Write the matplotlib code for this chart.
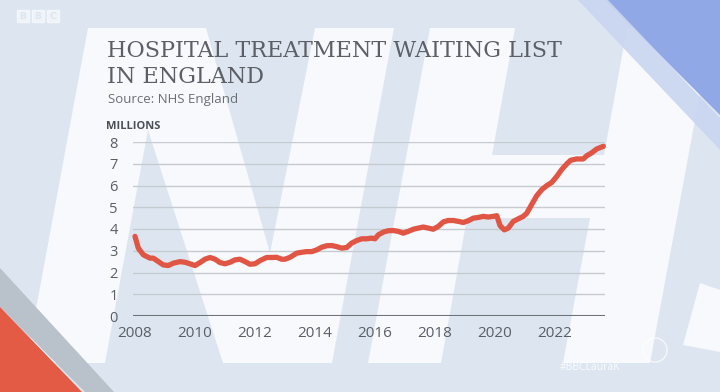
import matplotlib
matplotlib.use("Agg")
from matplotlib import pyplot as plt
from matplotlib.patches import Polygon, Rectangle, Circle

# waiting list, millions
years = [2008.00, 2008.11, 2008.28, 2008.50, 2008.61, 2008.78, 2008.94, 2009.11, 2009.28, 2009.50,
         2009.67, 2009.83, 2010.00, 2010.17, 2010.33, 2010.50, 2010.67, 2010.83, 2011.00, 2011.17,
         2011.33, 2011.50, 2011.67, 2011.83, 2012.00, 2012.17, 2012.39, 2012.56, 2012.72, 2012.89,
         2013.00, 2013.17, 2013.39, 2013.56, 2013.72, 2013.89, 2014.06, 2014.22, 2014.39, 2014.56,
         2014.72, 2014.89, 2015.06, 2015.22, 2015.39, 2015.56, 2015.72, 2015.89, 2016.00, 2016.11,
         2016.28, 2016.44, 2016.61, 2016.78, 2016.94, 2017.11, 2017.28, 2017.44, 2017.61, 2017.78,
         2017.94, 2018.11, 2018.28, 2018.44, 2018.61, 2018.78, 2018.94, 2019.11, 2019.28, 2019.44,
         2019.61, 2019.78, 2019.94, 2020.06, 2020.17, 2020.31, 2020.44, 2020.61, 2020.78, 2020.94,
         2021.06, 2021.22, 2021.39, 2021.56, 2021.72, 2021.89, 2022.06, 2022.22, 2022.39, 2022.52,
         2022.72, 2022.94, 2023.06, 2023.22, 2023.39, 2023.61]
waiting = [3.66, 3.12, 2.81, 2.66, 2.66, 2.50, 2.35, 2.32, 2.43, 2.50,
           2.47, 2.40, 2.32, 2.46, 2.61, 2.69, 2.61, 2.46, 2.40, 2.47,
           2.58, 2.61, 2.50, 2.38, 2.40, 2.55, 2.69, 2.69, 2.70, 2.61,
           2.61, 2.70, 2.89, 2.93, 2.96, 2.96, 3.04, 3.16, 3.23, 3.24,
           3.19, 3.12, 3.15, 3.35, 3.47, 3.55, 3.55, 3.58, 3.55, 3.73,
           3.86, 3.92, 3.93, 3.89, 3.81, 3.89, 3.99, 4.04, 4.09, 4.04,
           3.99, 4.12, 4.33, 4.39, 4.39, 4.35, 4.30, 4.38, 4.50, 4.53,
           4.58, 4.55, 4.58, 4.61, 4.15, 3.96, 4.04, 4.35, 4.47, 4.58,
           4.73, 5.12, 5.53, 5.81, 5.99, 6.14, 6.42, 6.73, 6.99, 7.16,
           7.22, 7.22, 7.37, 7.50, 7.68, 7.80]
xticks = [2008, 2010, 2012, 2014, 2016, 2018, 2020, 2022]
yticks = [0, 1, 2, 3, 4, 5, 6, 7, 8]

W, H = 720, 392
fig = plt.figure(figsize=(W / 100, H / 100), dpi=100)

# backdrop: studio graphic with big italic NHS letters
bg = fig.add_axes([0, 0, 1, 1])
bg.set_xlim(0, W)
bg.set_ylim(H, 0)
bg.axis("off")
bg.add_patch(Rectangle((0, 0), W, H, color="#dde6f0", zorder=0))

def poly(pts, color, alpha=1.0, z=1):
    bg.add_patch(Polygon(pts, closed=True, facecolor=color, edgecolor="none", alpha=alpha, zorder=z))

white = "#f7f9fc"
blue = "#dde6f0"
poly([(88, 28), (712, 28), (650, 363), (26, 363)], white)
poly([(148, 130), (223, 363), (105, 363)], blue, z=2)
poly([(206, 28), (315, 28), (270, 253)], blue, z=2)
poly([(394, 28), (430, 28), (368, 363), (332, 363)], blue, z=2)
poly([(515, 28), (627, 28), (604, 155), (492, 155)], blue, z=2)
poly([(467, 218), (590, 218), (563, 363), (441, 363)], blue, z=2)
poly([(700, 283), (720, 290), (720, 352), (683, 345)], white, z=2)
# sky corner
poly([(605, 0), (720, 0), (720, 115)], "#90a9e6", z=3)
poly([(578, 0), (608, 0), (720, 118), (720, 150)], "#c9d5f0", alpha=0.9, z=3)
# bottom-left corner
poly([(0, 268), (0, 307), (85, 392), (114, 392)], "#b9c1ca", z=3)
poly([(0, 307), (0, 392), (82, 392)], "#e35a45", z=4)
# BBC logo, hashtag
for i, ch in enumerate("BBC"):
    bg.add_patch(Rectangle((17 + 15 * i, 10), 12, 12, color="white", alpha=0.55, zorder=5))
    bg.text(23 + 15 * i, 16.5, ch, ha="center", va="center", fontsize=6.5,
            fontweight="bold", color="#dde6f0", zorder=6)
bg.text(560, 368, "#BBCLauraK", fontsize=7.5, color="white", alpha=0.85,
        va="center", family="Open Sans", zorder=6)
bg.add_patch(Circle((655, 350), 12, fill=False, edgecolor="white", alpha=0.7, lw=1, zorder=6))

# titles
fig.text(107 / W, 1 - 83 / H, "HOSPITAL TREATMENT WAITING LIST\nIN ENGLAND",
         family="DejaVu Serif", fontsize=16, color="#5c5f65",
         va="baseline", ha="left", linespacing=1.25)
fig.text(108 / W, 1 - 103 / H, "Source: NHS England", family="Open Sans",
         fontsize=9.5, color="#6b6e73", va="baseline")
fig.text(106 / W, 1 - 129 / H, "MILLIONS", family="Open Sans", fontsize=8,
         fontweight="bold", color="#4a4e55", va="baseline")

# the chart
left, right, top, bottom = 133, 605, 142, 316
ax = fig.add_axes([left / W, 1 - bottom / H, (right - left) / W, (bottom - top) / H])
ax.patch.set_alpha(0)
ax.set_xlim(2008 - 2 / 30, 2008 + (right - 135) / 30)
ax.set_ylim(0, 8)
for y in yticks[1:]:
    ax.axhline(y, color="#c6cbd1", lw=1, zorder=1)
ax.axhline(0, color="#6d7278", lw=1.5, zorder=1)
ax.plot(years, waiting, color="#e05543", lw=3.8, solid_capstyle="round",
        solid_joinstyle="round", clip_on=False, zorder=3)
for s in ax.spines.values():
    s.set_visible(False)
ax.set_xticks(xticks)
ax.set_yticks(yticks)
ax.tick_params(length=0, colors="#5a5e65")
ax.tick_params(axis="y", pad=11, labelsize=10.5)
ax.tick_params(axis="x", pad=7, labelsize=11)
for lab in ax.get_xticklabels() + ax.get_yticklabels():
    lab.set_family("Open Sans")

fig.savefig("out.png", dpi=100)
